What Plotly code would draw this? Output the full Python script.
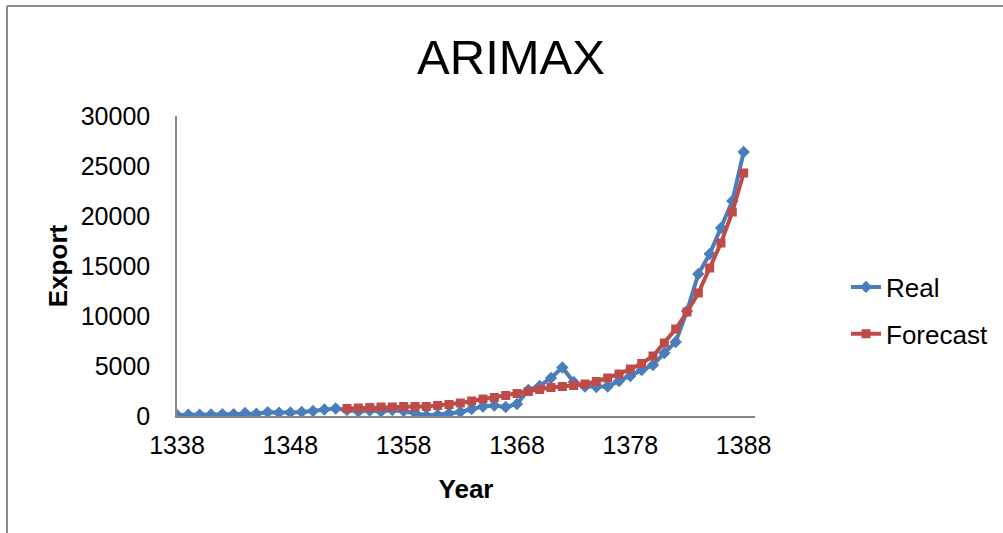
import plotly.graph_objects as go

# ---- data ----
real_years = list(range(1338, 1389))
real_values = [100, 120, 130, 150, 170, 180, 300, 220, 380, 330,
               350, 400, 500, 650, 750, 600, 450, 550, 450, 600,
               500, 300, 50, 100, 250, 400, 700, 950, 1050, 900,
               1200, 2600, 3000, 3800, 4850, 3400, 2950, 2900, 2950, 3500,
               4000, 4600, 5100, 6300, 7400, 10500, 14200, 16200, 18800, 21500,
               26400]

forecast_years = list(range(1353, 1389))
forecast_values = [750, 800, 850, 900, 900, 950, 950, 950, 1050, 1150,
                   1300, 1500, 1700, 1850, 2050, 2250, 2450, 2650, 2850, 2950,
                   3050, 3200, 3450, 3800, 4200, 4700, 5250, 6000, 7300, 8700,
                   10400, 12300, 14800, 17300, 20400, 24300]

x_ticks = [1338, 1348, 1358, 1368, 1378, 1388]
y_ticks = [0, 5000, 10000, 15000, 20000, 25000, 30000]

# ---- figure ----
W, H = 1003, 533
L, R, T, B = 177, 248, 116, 117
pw, ph = W - L - R, H - T - B

def px(xp):
    return (xp - L) / pw

def py(yp):
    return (H - B - yp) / ph

FONT = "Liberation Sans, Arial, sans-serif"

fig = go.Figure()
fig.add_trace(go.Scatter(
    x=real_years, y=real_values, name="Real", mode="lines+markers",
    line=dict(color="#4A7EBB", width=4),
    marker=dict(symbol="diamond", size=9.5, color="#4A7EBB"),
    legendgroup="a",
))
fig.add_trace(go.Scatter(
    x=forecast_years, y=forecast_values, name="Forecast", mode="lines+markers",
    line=dict(color="#BE4B48", width=4),
    marker=dict(symbol="square", size=9, color="#BE4B48"),
    legendgroup="b",
))

fig.update_layout(
    width=W, height=H,
    margin=dict(l=L, r=R, t=T, b=B, autoexpand=False),
    paper_bgcolor="white", plot_bgcolor="white",
    font=dict(family=FONT, size=25, color="#000000"),
    title=dict(text="ARIMAX", xref="container", x=511 / W, xanchor="center",
               yref="container", y=1 - 57 / H, yanchor="middle",
               font=dict(family=FONT, size=49, color="#000000")),
    xaxis=dict(range=[1338, 1389], tickvals=x_ticks, ticktext=[str(v) for v in x_ticks],
               showgrid=False, zeroline=False, showline=True, linecolor="#868686",
               linewidth=1.5, ticks="", tickfont=dict(size=25), ticklabelstandoff=6,
               title=dict(text="<b>Year</b>", font=dict(size=26), standoff=22)),
    yaxis=dict(range=[0, 30000], tickvals=y_ticks, ticktext=[str(v) for v in y_ticks],
               showgrid=False, zeroline=False, showline=True, linecolor="#868686",
               linewidth=1.5, ticks="", tickfont=dict(size=25), ticklabelstandoff=20,
               title=dict(text="<b>Export</b>", font=dict(size=26), standoff=6)),
    legend=dict(x=px(846), y=py(310.5), xanchor="left", yanchor="middle",
                font=dict(size=26), tracegroupgap=10, traceorder="grouped",
                bgcolor="rgba(0,0,0,0)"),
    showlegend=True,
    shapes=[
        dict(type="line", xref="paper", yref="paper",
             x0=px(7), x1=px(1003), y0=py(6), y1=py(6),
             line=dict(color="#8C8C8C", width=2)),
        dict(type="line", xref="paper", yref="paper",
             x0=px(7), x1=px(7), y0=py(6), y1=py(533),
             line=dict(color="#8C8C8C", width=2)),
    ],
)

fig.write_html("out.html")
